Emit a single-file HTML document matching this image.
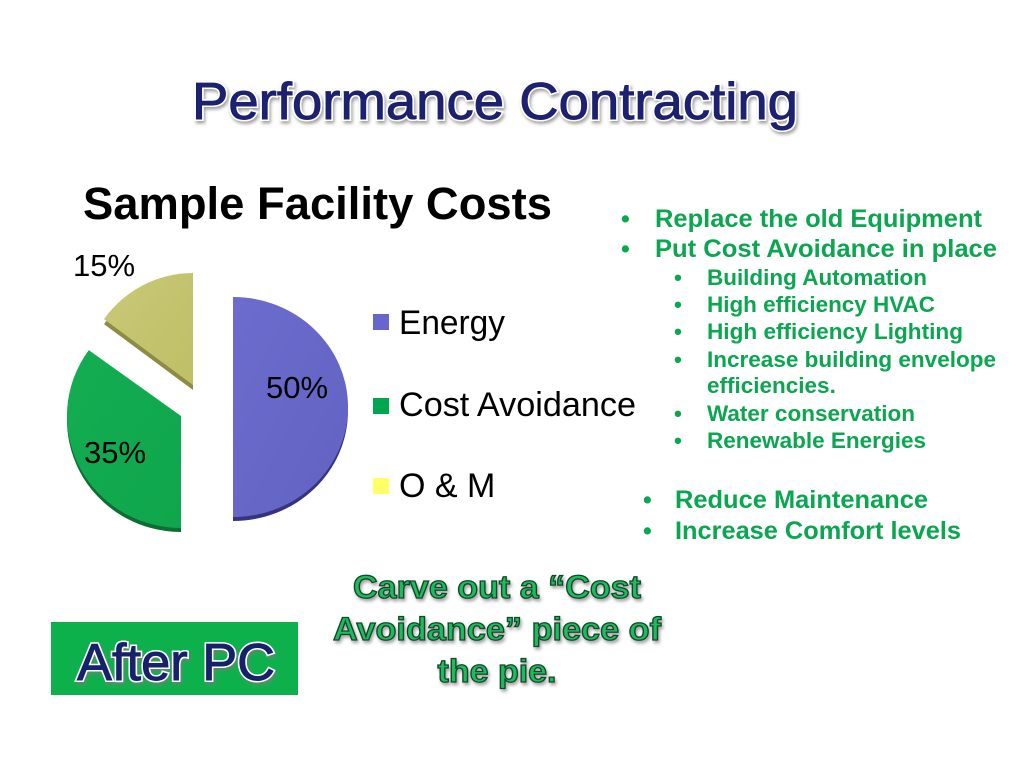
<!DOCTYPE html>
<html>
<head>
<meta charset="utf-8">
<style>
  html, body { margin: 0; padding: 0; background: #ffffff; }
  body { width: 1024px; height: 768px; overflow: hidden; }
  svg { display: block; }
  text { font-family: "Liberation Sans", Arial, sans-serif; }
</style>
</head>
<body>
<svg width="1024" height="768" viewBox="0 0 1024 768" xmlns="http://www.w3.org/2000/svg">
  <defs>
    <filter id="sh" x="-10%" y="-30%" width="120%" height="160%">
      <feGaussianBlur in="SourceAlpha" stdDeviation="1.6"/>
      <feOffset dx="1.5" dy="2.5" result="b"/>
      <feFlood flood-color="#7a7a7a" flood-opacity="0.7"/>
      <feComposite in2="b" operator="in"/>
      <feMerge><feMergeNode/><feMergeNode in="SourceGraphic"/></feMerge>
    </filter>
    <linearGradient id="gE" x1="0" y1="0" x2="1" y2="1">
      <stop offset="0" stop-color="#6c6cce"/>
      <stop offset="1" stop-color="#6262c2"/>
    </linearGradient>
    <linearGradient id="gG" x1="0" y1="0" x2="1" y2="1">
      <stop offset="0" stop-color="#14ad52"/>
      <stop offset="1" stop-color="#0fa64c"/>
    </linearGradient>
    <linearGradient id="gY" x1="0" y1="0" x2="1" y2="1">
      <stop offset="0" stop-color="#c8c878"/>
      <stop offset="1" stop-color="#bfbf66"/>
    </linearGradient>
  </defs>

  <!-- Title -->
  <g filter="url(#sh)">
    <text x="495" y="119" font-size="52" text-anchor="middle" fill="#ffffff"
          stroke="#ffffff" stroke-width="4"
          textLength="606" lengthAdjust="spacingAndGlyphs">Performance Contracting</text>
    <text x="495" y="119" font-size="52" text-anchor="middle" fill="#1c2070"
          stroke="#1c2070" stroke-width="0.9"
          textLength="606" lengthAdjust="spacingAndGlyphs">Performance Contracting</text>
  </g>

  <!-- Chart title -->
  <text x="83" y="219" font-size="45" font-weight="bold" fill="#000000"
        textLength="469" lengthAdjust="spacingAndGlyphs">Sample Facility Costs</text>

  <!-- Pie: sides (depth) -->
  <path d="M233,411 L233,301 A115,110 0 0 1 233,521 Z" fill="#35357f"/>
  <path d="M181,420 L181,532 A114,112 0 0 1 88.8,354.1 Z" fill="#0b6e33"/>
  <path d="M193,390 L104,324.1 A110,112 0 0 1 193,278 Z" fill="#8c8c44"/>

  <!-- Pie faces -->
  <path d="M233,407 L233,297 A115,110 0 0 1 233,517 Z" fill="url(#gE)"/>
  <path d="M181,416 L181,528 A114,112 0 0 1 88.8,350.1 Z" fill="url(#gG)"/>
  <path d="M193,385 L104,319.1 A110,112 0 0 1 193,273 Z" fill="url(#gY)"/>

  <!-- Pie labels -->
  <text x="73" y="276" font-size="31" fill="#000">15%</text>
  <text x="266" y="398" font-size="31" fill="#000">50%</text>
  <text x="84" y="463" font-size="31" fill="#000">35%</text>

  <!-- Legend -->
  <rect x="373" y="314" width="16" height="16" fill="#6666cc"/>
  <text x="399" y="334" font-size="34" fill="#000" textLength="106" lengthAdjust="spacingAndGlyphs">Energy</text>
  <rect x="373" y="398" width="16" height="16" fill="#00a650"/>
  <text x="399" y="416" font-size="34" fill="#000" textLength="237" lengthAdjust="spacingAndGlyphs">Cost Avoidance</text>
  <rect x="373" y="478" width="16" height="16" fill="#ffff66"/>
  <text x="399" y="497" font-size="34" fill="#000">O &amp; M</text>

  <!-- Right bullets -->
  <g fill="#0aa650" font-weight="bold">
    <text x="621" y="227" font-size="25">•</text>
    <text x="655" y="227" font-size="25" textLength="327" lengthAdjust="spacingAndGlyphs">Replace the old Equipment</text>
    <text x="621" y="257" font-size="25">•</text>
    <text x="655" y="257" font-size="25" textLength="342" lengthAdjust="spacingAndGlyphs">Put Cost Avoidance in place</text>

    <text x="674" y="285" font-size="22.5">•</text>
    <text x="707" y="285" font-size="22.5" textLength="220" lengthAdjust="spacingAndGlyphs">Building Automation</text>
    <text x="674" y="312" font-size="22.5">•</text>
    <text x="707" y="312" font-size="22.5" textLength="228" lengthAdjust="spacingAndGlyphs">High efficiency HVAC</text>
    <text x="674" y="339" font-size="22.5">•</text>
    <text x="707" y="339" font-size="22.5" textLength="256" lengthAdjust="spacingAndGlyphs">High efficiency Lighting</text>
    <text x="674" y="367" font-size="22.5">•</text>
    <text x="707" y="367" font-size="22.5" textLength="289" lengthAdjust="spacingAndGlyphs">Increase building envelope</text>
    <text x="707" y="393" font-size="22.5">efficiencies.</text>
    <text x="674" y="421" font-size="22.5">•</text>
    <text x="707" y="421" font-size="22.5" textLength="208" lengthAdjust="spacingAndGlyphs">Water conservation</text>
    <text x="674" y="448" font-size="22.5">•</text>
    <text x="707" y="448" font-size="22.5" textLength="219" lengthAdjust="spacingAndGlyphs">Renewable Energies</text>

    <text x="643" y="508" font-size="25">•</text>
    <text x="675" y="508" font-size="25" textLength="253" lengthAdjust="spacingAndGlyphs">Reduce Maintenance</text>
    <text x="643" y="539" font-size="25">•</text>
    <text x="675" y="539" font-size="25" textLength="286" lengthAdjust="spacingAndGlyphs">Increase Comfort levels</text>
  </g>

  <!-- Carve out text -->
  <g font-weight="bold" font-size="32" text-anchor="middle" fill="#22b85f"
     stroke="#0a4a26" stroke-width="1.3" filter="url(#sh)">
    <text x="497" y="598" textLength="288" lengthAdjust="spacingAndGlyphs">Carve out a “Cost</text>
    <text x="497" y="640" textLength="328" lengthAdjust="spacingAndGlyphs">Avoidance” piece of</text>
    <text x="497" y="682" textLength="119" lengthAdjust="spacingAndGlyphs">the pie.</text>
  </g>

  <!-- After PC box -->
  <rect x="51" y="622" width="247" height="73" fill="#0db14b"/>
  <g filter="url(#sh)">
    <text x="77" y="680" font-size="52" fill="#ffffff" stroke="#ffffff" stroke-width="4"
          textLength="198" lengthAdjust="spacingAndGlyphs">After PC</text>
    <text x="77" y="680" font-size="52" fill="#16206a" stroke="#16206a" stroke-width="0.9"
          textLength="198" lengthAdjust="spacingAndGlyphs">After PC</text>
  </g>
</svg>
</body>
</html>
